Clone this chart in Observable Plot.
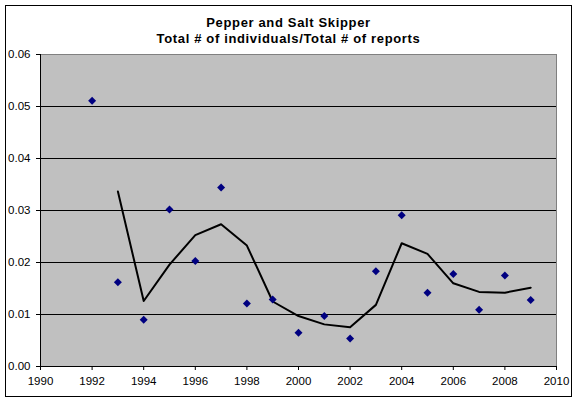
<!DOCTYPE html>
<html>
<head>
<meta charset="utf-8">
<script src="https://cdn.jsdelivr.net/npm/d3@7"></script>
<script src="https://cdn.jsdelivr.net/npm/@observablehq/plot@0.6"></script>
<style>
  html, body { margin: 0; padding: 0; background: #fff; }
  #wrap { position: relative; width: 576px; height: 401px; overflow: hidden; }
  #border { position: absolute; left: 5px; top: 5px; width: 565px; height: 390px; border: 1px solid #000; pointer-events: none; }
  svg { font-family: "Liberation Sans", Arial, sans-serif; }
  svg g[aria-label="text"] text { letter-spacing: 0.65px; }
</style>
</head>
<body>
<div id="wrap"><div id="border"></div></div>
<script>
const titleLines = ["Pepper and Salt Skipper", "Total # of individuals/Total # of reports"];
const years = [1992, 1993, 1994, 1995, 1996, 1997, 1998, 1999, 2000, 2001, 2002, 2003, 2004, 2005, 2006, 2007, 2008, 2009];
const values = [0.0511, 0.0162, 0.0090, 0.0302, 0.0203, 0.0344, 0.0121, 0.0129, 0.0065, 0.0097, 0.0054, 0.0183, 0.0291, 0.0142, 0.0178, 0.0109, 0.0175, 0.0128];
const xTicks = [1990, 1992, 1994, 1996, 1998, 2000, 2002, 2004, 2006, 2008, 2010];
const yTicks = [0, 0.01, 0.02, 0.03, 0.04, 0.05, 0.06];
const gridValues = [0.01, 0.02, 0.03, 0.04, 0.05];

const data = years.map((year, i) => ({year, value: values[i]}));

const chart = Plot.plot({
  width: 576,
  height: 401,
  marginTop: 54,
  marginLeft: 40,
  marginRight: 20,
  marginBottom: 35,
  style: {fontFamily: "'Liberation Sans', Arial, sans-serif", fontSize: "11.5px", color: "#000", background: "transparent"},
  x: {domain: [1990, 2010]},
  y: {domain: [0, 0.06]},
  marks: [
    Plot.frame({fill: "#c0c0c0", stroke: "#808080"}),
    Plot.ruleY(gridValues, {stroke: "#000", strokeWidth: 1}),
    Plot.ruleX([1990], {stroke: "#000"}),
    Plot.ruleY([0], {stroke: "#000"}),
    Plot.axisY({ticks: yTicks, tickFormat: d3.format(".2f"), tickSize: 4, tickPadding: 6, label: null, stroke: "#000", fill: "#000"}),
    Plot.axisX({ticks: xTicks, tickFormat: "d", tickSize: 4, tickPadding: 6, label: null, stroke: "#000", fill: "#000"}),
    Plot.lineY(data, Plot.windowY({k: 2, anchor: "end", strict: true, reduce: "mean"}, {x: "year", y: "value", stroke: "#000", strokeWidth: 2})),
    Plot.dot(data, {x: "year", y: "value", symbol: "diamond2", r: 3.6, fill: "#000080", stroke: "none"}),
    Plot.text([titleLines.join("\n")], {frameAnchor: "top", dx: -10, dy: -38.5, lineHeight: 1.23, fontWeight: "bold", fontSize: 13, fill: "#000", text: d => d, lineAnchor: "top"})
  ]
});
document.getElementById("wrap").prepend(chart);
</script>
</body>
</html>
